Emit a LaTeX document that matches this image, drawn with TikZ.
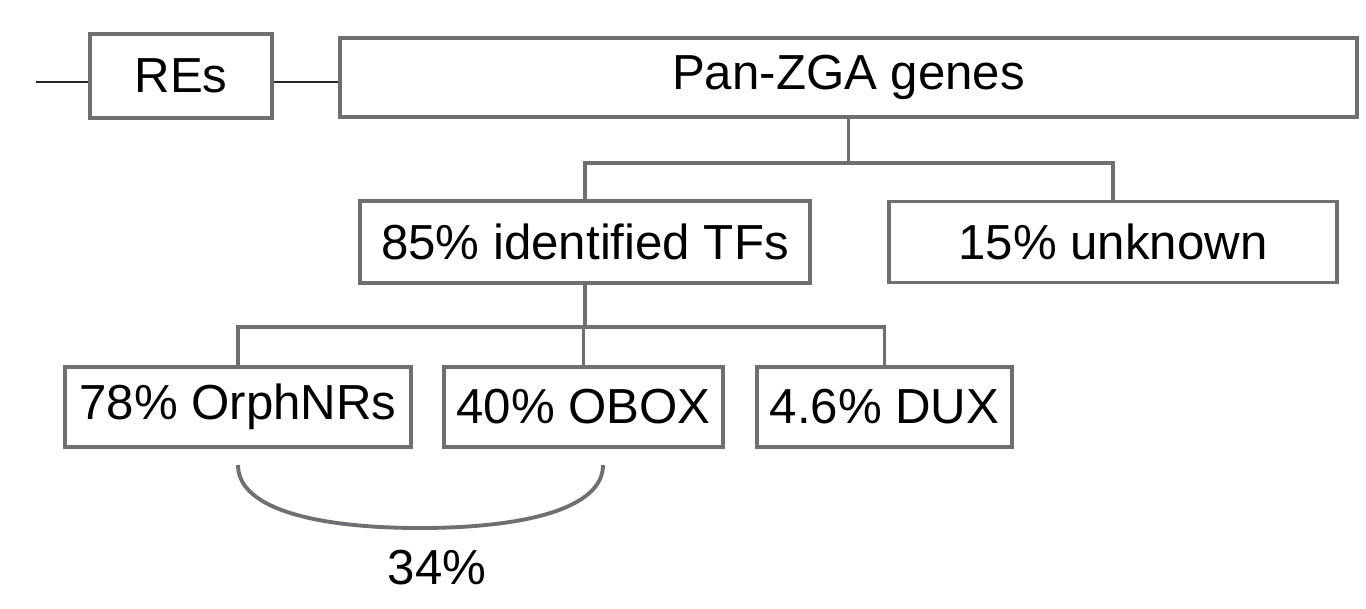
\documentclass[tikz,border=0pt]{standalone}
\usepackage{fontspec}
\setmainfont{Liberation Sans}
\usepackage{tikz}
\usetikzlibrary{positioning, calc}
\definecolor{boxgray}{HTML}{6E6F73}

\begin{document}
\begin{tikzpicture}[
    every node/.style={font=\fontsize{14}{17}\selectfont},
    box/.style={draw=boxgray, line width=1.1pt, fill=white, inner sep=0pt, minimum height=0.8cm, align=center},
    link/.style={draw=boxgray, line width=1.1pt},
    thin/.style={draw=black!85, line width=0.8pt}
]
    \useasboundingbox (0,0) rectangle (13.66,6.08);

    \node[box, minimum width=1.82cm, minimum height=0.84cm] (res) at (1.81,5.32) {REs};
    \node[box, minimum width=10.17cm, minimum height=0.79cm] (pan) at (8.485,5.305) {Pan-ZGA genes};

    \node[box, minimum width=4.5cm, minimum height=0.82cm] (tfs) at (5.85,3.66) {85\% identified TFs};
    \node[box, minimum width=4.48cm, minimum height=0.81cm] (unk) at (11.13,3.66) {15\% unknown};

    \node[box, minimum width=3.46cm] (orph) at (2.38,2.01) {78\% OrphNRs};
    \node[box, minimum width=2.79cm] (obox) at (5.835,2.01) {40\% OBOX};
    \node[box, minimum width=2.55cm] (dux) at (8.845,2.01) {4.6\% DUX};

    % left strand
    \coordinate (strand) at (0.36,5.26);
    \draw[thin] (strand) -- (strand -| res.west);
    \draw[thin] (strand -| res.east) -- (strand -| pan.west);

    % tree
    \draw[link] (pan.south) -- ++(0,-0.44) coordinate (split1);
    \draw[link] (tfs.north) |- (split1) -| (unk.north);
    \draw[link] (tfs.south) -- ++(0,-0.42) coordinate (split2);
    \draw[link] (orph.north) |- (split2) -| (dux.north);
    \draw[link] (obox.north) -- (obox.north |- split2);

    % overlap bracket
    \coordinate (brl) at (2.38,1.43);
    \coordinate (brr) at (6.03,1.43);
    \draw[link] (brl) .. controls (2.38,0.98) and (3.2,0.80) .. (4.2,0.80)
        .. controls (5.2,0.80) and (6.03,0.98) .. (brr);
    \node (overlap) at (4.37,0.40) {34\%};
\end{tikzpicture}
\end{document}
